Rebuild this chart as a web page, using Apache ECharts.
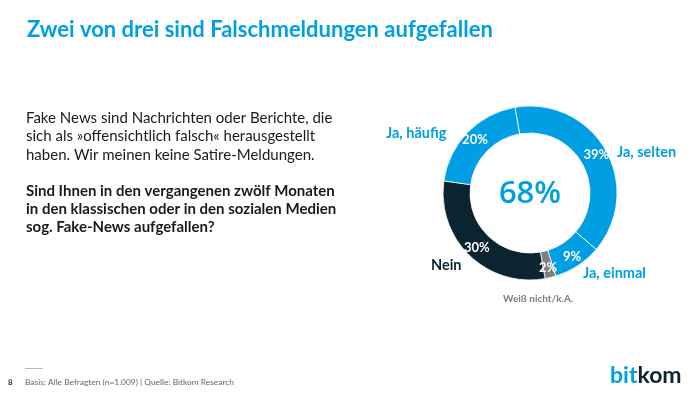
<!DOCTYPE html>
<html><head><meta charset="utf-8">
<script src="https://cdn.jsdelivr.net/npm/echarts@6/dist/echarts.min.js"></script>
<style>html,body{margin:0;padding:0;background:#fff}#c{width:700px;height:394px}</style>
</head><body><div id="c"></div>
<script>
const categories = ['Ja, selten', 'Ja, einmal', 'Weiß nicht/k.A.', 'Nein', 'Ja, häufig'];
const values = [39, 9, 2, 30, 20];
const colors = ['#009FE3', '#009FE3', '#7F7F7F', '#0B2530', '#009FE3'];
const centerValue = '68%';
const title = 'Zwei von drei sind Falschmeldungen aufgefallen';
const introLines = ['Fake News sind Nachrichten oder Berichte, die', 'sich als »offensichtlich falsch« herausgestellt', 'haben. Wir meinen keine Satire-Meldungen.'];
const questionLines = ['Sind Ihnen in den vergangenen zwölf Monaten', 'in den klassischen oder in den sozialen Medien', 'sog. Fake-News aufgefallen?'];
const footnote = 'Basis: Alle Befragten (n=1.009) | Quelle: Bitkom Research';

const FONT = 'Lato';
const chart = echarts.init(document.getElementById('c'), null, {renderer: 'canvas'});
const labelPos = {
  'Ja, selten': {x: 617, y: 152, fill: '#009FE3', size: 14.5},
  'Ja, einmal': {x: 583, y: 273, fill: '#009FE3', size: 14.5},
  'Weiß nicht/k.A.': {x: 503, y: 299, fill: '#7F7F7F', size: 10},
  'Nein': {x: 431, y: 265, fill: '#0B2530', size: 14.5},
  'Ja, häufig': {x: 386, y: 133, fill: '#009FE3', size: 14.5}
};
const graphics = [
  {type: 'text', x: 27, y: 30, style: {text: title, fill: '#009FE3', font: `bold 22px ${FONT}`, verticalAlign: 'middle'}},
  {type: 'rect', shape: {x: 25, y: 368, width: 18, height: 1}, style: {fill: '#BBBBBB'}},
  {type: 'text', x: 8, y: 382, style: {text: '8', fill: '#333', font: `bold 8px ${FONT}`, verticalAlign: 'middle'}},
  {type: 'text', x: 25, y: 382, style: {text: footnote, fill: '#666', font: `8.4px ${FONT}`, verticalAlign: 'middle'}},
  {type: 'text', x: 610, y: 376, style: {
    text: '{b|bit}{k|kom}', verticalAlign: 'middle',
    rich: {b: {fill: '#009FE3', font: `bold 23px ${FONT}`}, k: {fill: '#0B2530', font: `bold 23px ${FONT}`}}}},
  {type: 'text', x: 530, y: 194, style: {text: centerValue, fill: '#009FE3', font: `600 31px 'Open Sans'`, align: 'center', verticalAlign: 'middle'}}
];
introLines.forEach((t, i) => graphics.push({type: 'text', x: 26, y: 118 + i * 18.5, style: {text: t, fill: '#1A1A1A', font: `15px ${FONT}`, verticalAlign: 'middle'}}));
questionLines.forEach((t, i) => graphics.push({type: 'text', x: 26, y: 191 + i * 18, style: {text: t, fill: '#1A1A1A', font: `bold 15px ${FONT}`, verticalAlign: 'middle'}}));
categories.forEach(c => {
  const p = labelPos[c];
  graphics.push({type: 'text', x: p.x, y: p.y, style: {text: c, fill: p.fill, font: `bold ${p.size}px ${FONT}`, verticalAlign: 'middle'}});
});

chart.setOption({
  animation: false,
  graphic: graphics,
  series: [{
    type: 'pie',
    center: [530, 193],
    radius: [60, 87],
    startAngle: 100,
    clockwise: true,
    silent: true,
    itemStyle: {borderColor: '#fff', borderWidth: 0.8},
    label: {show: true, position: 'inside', formatter: '{c}%', color: '#fff', fontFamily: FONT, fontSize: 13, fontWeight: 'bold'},
    labelLine: {show: false},
    data: categories.map((c, i) => ({name: c, value: values[i], itemStyle: {color: colors[i]}}))
  }]
});
</script></body></html>
